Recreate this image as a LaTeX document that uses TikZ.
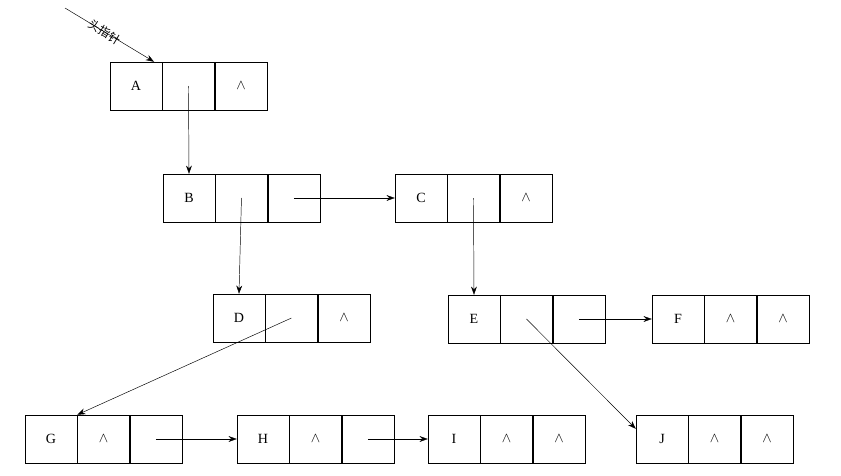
\documentclass[tikz,border=0pt]{standalone}
\usepackage{fontspec}
\setmainfont{Liberation Serif}
\newfontfamily\cjk{Noto Sans CJK SC}
\usetikzlibrary{arrows.meta, positioning}
\tikzset{
    cell/.style={
        draw,
        minimum width=52*0.03cm,
        minimum height=48*0.03cm,
        inner sep=0pt,
        font=\large
    },
    link/.style={
        -{Stealth[length=7pt,width=5pt]},
        thin
    }
}
% one list record: three cells named #11, #12, #13
\newcommand{\record}[6]{%
    \node (#11) [cell] at (#2+26,#3) {#4};
    \node (#12) [cell, right=0pt of #11] {#5};
    \node (#13) [cell, right=0pt of #12] {#6};
}
\newcommand{\nil}{$\wedge$}
\begin{document}
\begin{tikzpicture}[x=0.03cm, y=-0.03cm]
    \useasboundingbox (0,0) rectangle (841,475);

    % Records
    \record{A}{110}{86}{A}{}{\nil}
    \record{B}{163}{198}{B}{}{}
    \record{C}{395}{198}{C}{}{\nil}
    \record{D}{213}{318}{D}{}{\nil}
    \record{E}{448}{319}{E}{}{}
    \record{F}{652}{319}{F}{\nil}{\nil}
    \record{G}{25}{439}{G}{\nil}{}
    \record{H}{237}{439}{H}{\nil}{}
    \record{I}{428}{439}{I}{\nil}{\nil}
    \record{J}{636}{439}{J}{\nil}{\nil}

    % Head pointer
    \coordinate (head) at (65,8);
    \draw [link] (head) -- ([xshift=-7pt]A1.north east)
        node [pos=0.45, sloped, inner sep=0pt, font=\cjk] {头指针};

    % Links
    \draw [link] (A2.center) -- (B1.north);
    \draw [link] (B2.center) -- (D1.north);
    \draw [link] (B3.center) -- (C1.west);
    \draw [link] (C2.center) -- (E1.north);
    \draw [link] (D2.center) -- (G1.north east);
    \draw [link] (E2.center) -- ([yshift=-12pt]J1.north west);
    \draw [link] (E3.center) -- (F1.west);
    \draw [link] (G3.center) -- (H1.west);
    \draw [link] (H3.center) -- (I1.west);
\end{tikzpicture}
\end{document}
